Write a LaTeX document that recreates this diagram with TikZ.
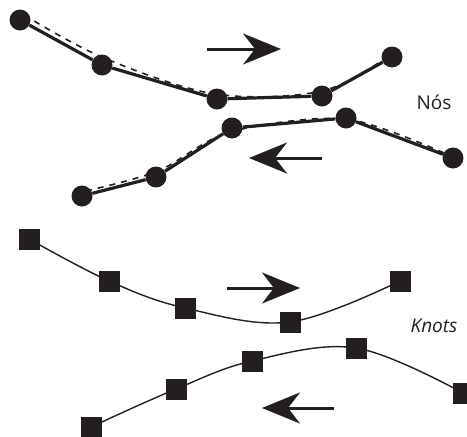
\documentclass[tikz,border=0pt]{standalone}
\usepackage{fontspec}
\setmainfont{Open Sans}
\usetikzlibrary{arrows.meta}
\pgfdeclarelayer{background}
\pgfsetlayers{background,main}
\definecolor{ink}{RGB}{35,31,32}
\tikzset{
  dot/.style={circle, fill=ink, draw=none, minimum size=21pt, inner sep=0pt},
  knot/.style={rectangle, fill=ink, draw=none, minimum size=21pt, inner sep=0pt},
  poly/.style={draw=ink, line width=3.2pt},
  fit/.style={draw=ink, line width=1.6pt, dash pattern=on 6pt off 6pt},
  spline/.style={draw=ink, line width=1.4pt},
  bigarrow/.style={draw=ink, line width=3pt, -{Stealth[length=38pt, width=31pt, inset=12pt]}},
  lbl/.style={font=\fontsize{19}{22}\selectfont, text=ink, inner sep=0pt}
}
\begin{document}
\begin{tikzpicture}[x=1pt, y=-1pt]
\useasboundingbox (0,0) rectangle (467,437);
% top: polylines with circles
\node[dot] (a1) at (20,20) {};
\node[dot] (a2) at (102,65) {};
\node[dot] (a3) at (217,99) {};
\node[dot] (a4) at (322,96) {};
\node[dot] (a5) at (392,57) {};
\node[dot] (b1) at (82,196) {};
\node[dot] (b2) at (156,177) {};
\node[dot] (b3) at (232,128) {};
\node[dot] (b4) at (346,118) {};
\node[dot] (b5) at (453,158) {};
\draw[poly] (a1) -- (a2) -- (a3) -- (a4) -- (a5);
\draw[poly] (b1) -- (b2) -- (b3) -- (b4) -- (b5);
\coordinate (f1) at (24,15);
\coordinate (f2) at (104,58);
\coordinate (f3) at (215,94);
\coordinate (f4) at (322,91);
\coordinate (f5) at (390,55);
\coordinate (g1) at (86,191);
\coordinate (g2) at (158,171);
\coordinate (g3) at (230,132);
\coordinate (g4) at (346,119);
\coordinate (g5) at (451,156);
\begin{pgfonlayer}{background}
\draw[fit] plot[smooth, tension=0.55] coordinates {(f1) (f2) (f3) (f4) (f5)};
\draw[fit] plot[smooth, tension=0.5] coordinates {(g1) (g2) (g3) (g4) (g5)};
\end{pgfonlayer}
\coordinate (r1s) at (207,49);
\coordinate (r1e) at (281,49);
\coordinate (l1s) at (322,158);
\coordinate (l1e) at (249,158);
\draw[bigarrow] (r1s) -- (r1e);
\draw[bigarrow] (l1s) -- (l1e);
\node[lbl] (nos) at (434,102) {Nós};
% bottom: splines with square knots
\node[knot] (c1) at (29,239) {};
\node[knot] (c2) at (109,281) {};
\node[knot] (c3) at (185,308) {};
\node[knot] (c4) at (290,322) {};
\node[knot] (c5) at (400,281) {};
\node[knot] (d1) at (91,427) {};
\node[knot] (d2) at (176,389) {};
\node[knot] (d3) at (252,361) {};
\node[knot] (d4) at (356,348) {};
\node[knot] (d5) at (463,393) {};
\begin{pgfonlayer}{background}
\draw[spline] plot[smooth, tension=0.6] coordinates {(c1) (c2) (c3) (c4) (c5)};
\draw[spline] plot[smooth, tension=0.6] coordinates {(d1) (d2) (d3) (d4) (d5)};
\end{pgfonlayer}
\coordinate (r2s) at (227,288);
\coordinate (r2e) at (300,288);
\coordinate (l2s) at (334,408);
\coordinate (l2e) at (262,408);
\draw[bigarrow] (r2s) -- (r2e);
\draw[bigarrow] (l2s) -- (l2e);
\node[lbl, font=\fontsize{19}{22}\selectfont\itshape] (knots) at (434,326) {Knots};
\end{tikzpicture}
\end{document}
